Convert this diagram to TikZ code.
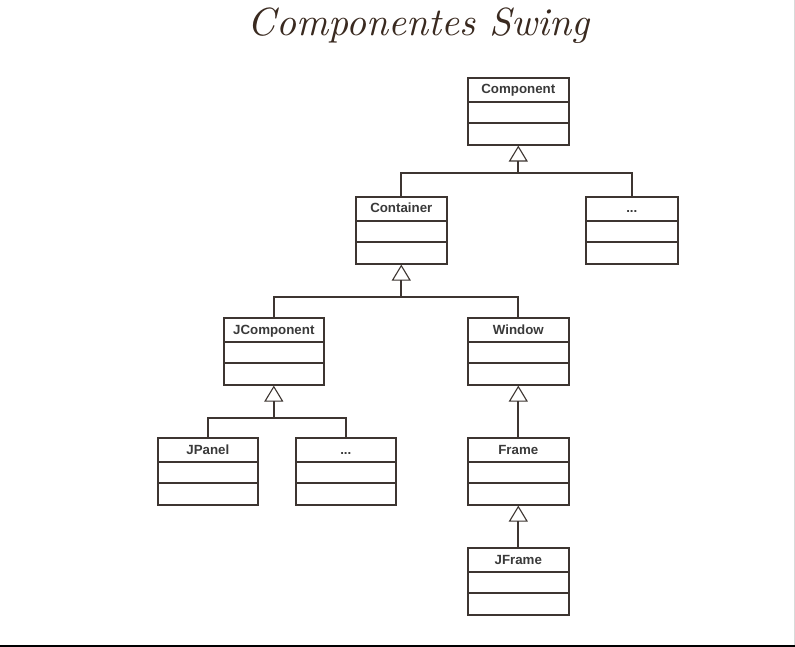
\documentclass[tikz,border=0pt]{standalone}
\usepackage{fontspec}
\setsansfont{Liberation Sans}
\usetikzlibrary{arrows.meta,calc}
\definecolor{ln}{HTML}{3D3531}
\definecolor{tx}{HTML}{3A3A3A}
\definecolor{ttl}{HTML}{3A2A20}
\tikzset{
  cls/.style={draw=ln, line width=1.6pt, fill=white, minimum height=67pt, inner sep=0pt, anchor=north west},
  lbl/.style={font=\sffamily\bfseries\fontsize{13.3}{15}\selectfont, text=tx, inner sep=0pt, anchor=base},
  conn/.style={draw=ln, line width=2pt},
  gen/.style={conn, -{Triangle[open, width=19pt, length=16pt, line width=1.1pt]}},
  divline/.style={draw=ln, line width=1.3pt},
}
\newcommand{\umlclass}[5]{%
  \node[cls, minimum width=#4pt] (#1) at (#2,#3) {};
  \node[lbl] (#1-t) at ($(#1.north)+(0,17)$) {#5};
  \draw[divline] ($(#1.north west)+(0,25)$) -- ($(#1.north east)+(0,25)$);
  \draw[divline] ($(#1.north west)+(0,46)$) -- ($(#1.north east)+(0,46)$);
}
\begin{document}
\begin{tikzpicture}[x=1pt,y=-1pt]
\useasboundingbox (0,0) rectangle (795,647);
\fill[white] (0,0) rectangle (795,647);
\draw[black!15, line width=1pt] (794.5,0) -- (794.5,645);
\draw[black, line width=1.6pt] (0,645.7) -- (795,645.7);

\node[text=ttl, inner sep=0pt] (title) at (419,25.5) {\resizebox{342pt}{!}{\itshape Componentes Swing}};

\umlclass{component}{467}{77}{101}{Component}
\umlclass{container}{355}{196}{91}{Container}
\umlclass{dotsA}{585}{196}{92}{...}
\umlclass{jcomponent}{223}{317}{100}{JComponent}
\umlclass{window}{467}{317}{101}{Window}
\umlclass{jpanel}{157}{437}{100}{JPanel}
\umlclass{dotsB}{295}{437}{100}{...}
\umlclass{frame}{467}{437}{101}{Frame}
\umlclass{jframe}{467}{547}{101}{JFrame}

\coordinate (j1) at (component.south |- 0,173);
\coordinate (j2) at (container.south |- 0,297);
\coordinate (j3) at (jcomponent.south |- 0,418);

\draw[conn] (container.north) |- (j1) -| (dotsA.north);
\draw[gen] (j1) -- (component.south);
\draw[conn] (jcomponent.north) |- (j2) -| (window.north);
\draw[gen] (j2) -- (container.south);
\draw[conn] (jpanel.north) |- (j3) -| (dotsB.north);
\draw[gen] (j3) -- (jcomponent.south);
\draw[gen] (frame.north) -- (window.south);
\draw[gen] (jframe.north) -- (frame.south);
\end{tikzpicture}
\end{document}
